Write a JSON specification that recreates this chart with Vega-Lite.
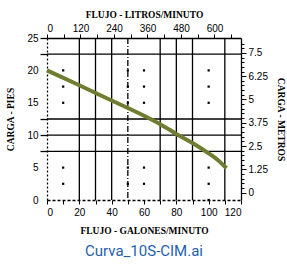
{
  "$schema": "https://vega.github.io/schema/vega-lite/v6.json",
  "width": 194,
  "height": 162,
  "autosize": {"type": "none"},
  "padding": {"left": 47, "top": 38, "right": 46, "bottom": 65},
  "config": {
    "view": {"stroke": null},
    "axis": {"labelFont": "Liberation Sans", "labelFontSize": 10, "labelColor": "#000", "labelOverlap": false, "titleFont": "Liberation Serif", "titleFontWeight": "bold", "titleFontSize": 9.5, "titleColor": "#000", "domainColor": "#000", "tickColor": "#000", "grid": false}
  },
  "title": {"text": "Curva_10S-CIM.ai", "orient": "bottom", "anchor": "middle", "font": "Roboto", "fontSize": 15, "fontWeight": "normal", "color": "#1f5fae", "offset": 9},
  "datasets": {
    "vlines": [{"g": 20}, {"g": 30}, {"g": 40}, {"g": 70}, {"g": 80}, {"g": 90}, {"g": 110}],
    "hlines": [{"f": 22.5}, {"f": 12.5}, {"f": 10}, {"f": 7.5}],
    "dots": [
      {"g": 10, "f": 20}, {"g": 10, "f": 17.5}, {"g": 10, "f": 15}, {"g": 10, "f": 5}, {"g": 10, "f": 2.5},
      {"g": 50, "f": 20}, {"g": 50, "f": 17.5}, {"g": 50, "f": 15}, {"g": 50, "f": 5}, {"g": 50, "f": 2.5},
      {"g": 60, "f": 20}, {"g": 60, "f": 17.5}, {"g": 60, "f": 15}, {"g": 60, "f": 5}, {"g": 60, "f": 2.5},
      {"g": 100, "f": 20}, {"g": 100, "f": 17.5}, {"g": 100, "f": 15}, {"g": 100, "f": 5}, {"g": 100, "f": 2.5}, {"g": 100, "f": 0}
    ],
    "curve": [
      {"g": 0, "f": 20}, {"g": 20, "f": 17.7}, {"g": 40, "f": 15.35}, {"g": 60, "f": 13.0},
      {"g": 70, "f": 11.7}, {"g": 80, "f": 10.2}, {"g": 90, "f": 8.8}, {"g": 100, "f": 7.2},
      {"g": 106, "f": 6.1}, {"g": 111, "f": 4.9}
    ]
  },
  "layer": [
    {
      "layer": [
        {
          "data": {"name": "hlines"},
          "mark": {"type": "rule", "color": "#000", "strokeWidth": 1.3},
          "encoding": {"y": {"field": "f", "type": "quantitative", "scale": {"domain": [0, 25], "nice": false}, "axis": null}}
        },
        {
          "data": {"name": "vlines"},
          "mark": {"type": "rule", "color": "#000", "strokeWidth": 1.3},
          "encoding": {"x": {"field": "g", "type": "quantitative", "scale": {"domain": [0, 120], "nice": false}, "axis": null}}
        },
        {
          "data": {"values": [{"g": 50}]},
          "mark": {"type": "rule", "color": "#000", "strokeWidth": 1.3, "strokeDash": [6, 2, 1, 2]},
          "encoding": {"x": {"field": "g", "type": "quantitative", "axis": null}}
        },
        {
          "data": {"name": "dots"},
          "mark": {"type": "square", "color": "#000", "size": 5, "opacity": 1},
          "encoding": {
            "x": {"field": "g", "type": "quantitative", "axis": null},
            "y": {"field": "f", "type": "quantitative", "axis": null}
          }
        },
        {
          "data": {"name": "curve"},
          "mark": {"type": "line", "color": "#6e7d2f", "strokeWidth": 4, "interpolate": "monotone"},
          "encoding": {
            "x": {"field": "g", "type": "quantitative", "axis": null},
            "y": {"field": "f", "type": "quantitative", "axis": null}
          }
        }
      ]
    },
    {
      "data": {"values": [{"g": 0, "f": 0}]},
      "mark": {"type": "point", "opacity": 0},
      "encoding": {
        "x": {"field": "g", "type": "quantitative", "scale": {"domain": [0, 120], "nice": false}, "axis": {"orient": "bottom", "values": [0, 10, 20, 30, 40, 50, 60, 70, 80, 90, 100, 110, 120], "labelExpr": "datum.value % 20 == 0 ? '' + datum.value : ''", "tickSize": 4, "domainDash": [3, 2], "domainWidth": 1.3, "labelPadding": 3, "title": "FLUJO - GALONES/MINUTO", "titlePadding": 8}},
        "y": {"field": "f", "type": "quantitative", "scale": {"domain": [0, 25], "nice": false}, "axis": {"orient": "left", "values": [0, 2.5, 5, 7.5, 10, 12.5, 15, 17.5, 20, 22.5, 25], "labelExpr": "datum.value % 5 == 0 ? '' + datum.value : ''", "tickSize": 7, "tickWidth": 1.3, "tickOpacity": {"condition": {"test": "datum.value == 25 || datum.value == 22.5 || datum.value == 12.5 || datum.value == 10 || datum.value == 7.5", "value": 1}, "value": 0}, "domainDash": [2, 2], "domainWidth": 1.3, "labelPadding": 2, "title": "CARGA - PIES", "titlePadding": 11}}
      }
    },
    {
      "data": {"values": [{"l": 0}]},
      "mark": {"type": "point", "opacity": 0},
      "encoding": {
        "x": {"field": "l", "type": "quantitative", "scale": {"domain": [0, 695], "nice": false}, "axis": {"orient": "top", "values": [0, 60, 120, 180, 240, 300, 360, 420, 480, 540, 600, 660], "labelExpr": "datum.value % 120 == 0 ? '' + datum.value : ''", "tickSize": 4, "domainWidth": 1.3, "labelPadding": 1, "title": "FLUJO - LITROS/MINUTO", "titlePadding": 4}}
      }
    },
    {
      "data": {"values": [{"m": 0}]},
      "mark": {"type": "point", "opacity": 0},
      "encoding": {
        "y": {"field": "m", "type": "quantitative", "scale": {"domain": [-0.4, 8.3], "nice": false, "zero": false}, "axis": {"orient": "right", "values": [0, 0.25, 0.5, 0.75, 1, 1.25, 1.5, 1.75, 2, 2.25, 2.5, 2.75, 3, 3.25, 3.5, 3.75, 4, 4.25, 4.5, 4.75, 5, 5.25, 5.5, 5.75, 6, 6.25, 6.5, 6.75, 7, 7.25, 7.5, 7.75, 8], "labelExpr": "datum.value % 1.25 == 0 ? '' + datum.value : ''", "tickSize": {"condition": {"test": "datum.value % 1.25 == 0", "value": 5}, "value": 3}, "domainWidth": 1.3, "labelPadding": 2, "title": "CARGA - METROS", "titlePadding": 8}}
      }
    }
  ],
  "resolve": {"scale": {"x": "independent", "y": "independent"}}
}
